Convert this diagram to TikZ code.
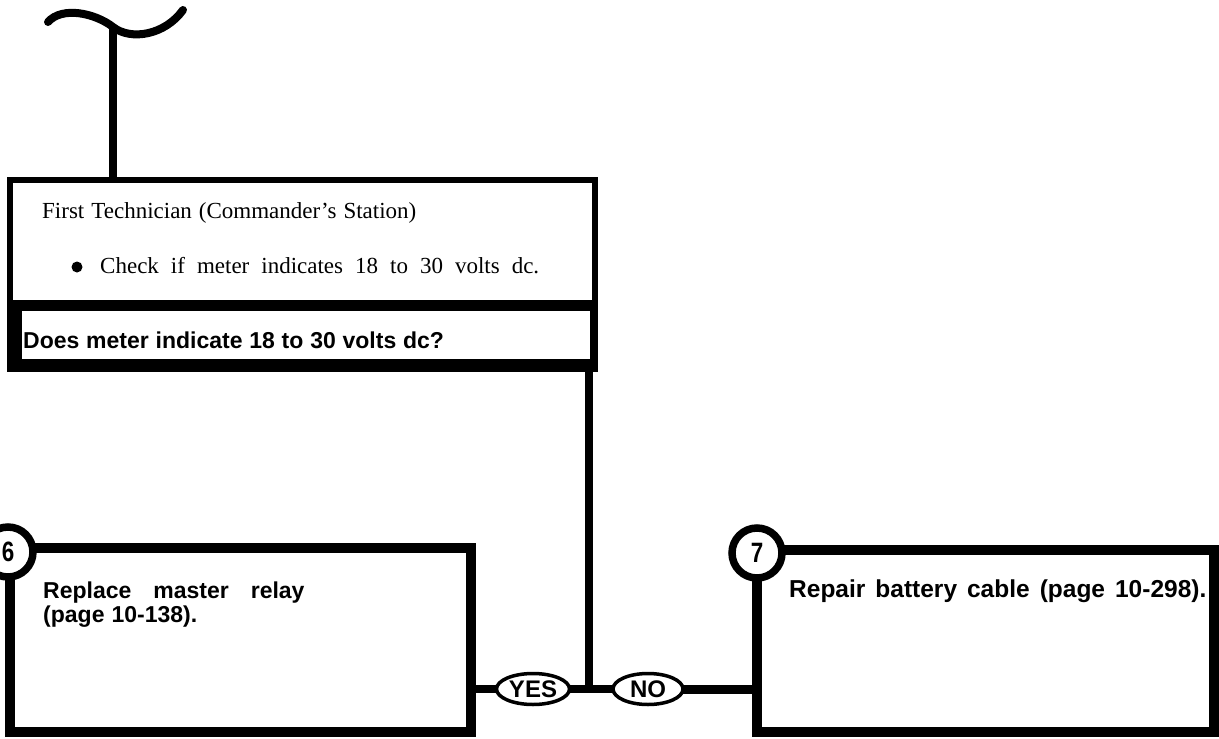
\documentclass[tikz,border=0pt]{standalone}
\usepackage{fontspec}
\setmainfont{Liberation Serif}
\newfontfamily\hsans{Liberation Sans}
\newfontfamily\hsansc{Liberation Sans}[FakeStretch=0.8]
\usetikzlibrary{shapes.geometric}
\begin{document}
\begin{tikzpicture}[x=1pt,y=-1pt,
  blk/.style={fill=black,inner sep=0pt,outer sep=0pt,anchor=north west},
  wht/.style={fill=white,inner sep=0pt,outer sep=0pt,anchor=north west},
  actbox/.style={draw=black,line width=10pt,fill=white,inner sep=0pt,outer sep=0pt},
  numcirc/.style={circle,draw=black,line width=7.5pt,fill=white,minimum size=50pt,inner sep=0pt,outer sep=0pt,font=\hsansc\bfseries\fontsize{28}{29}\selectfont},
  ans/.style={ellipse,draw=black,line width=3.5pt,fill=white,inner sep=0pt,outer sep=0pt,font=\hsans\bfseries\fontsize{24}{25}\selectfont},
  serif/.style={inner sep=0pt,anchor=base west,font=\fontsize{23}{26}\selectfont},
  bold/.style={inner sep=0pt,anchor=base west,font=\hsans\bfseries\fontsize{23}{26}\selectfont},
  wire/.style={line width=7.5pt}]
\fill[white] (0,0) rectangle (1219,739);
\useasboundingbox (0,0) rectangle (1219,739);
% top step box
\node[blk,minimum width=591pt,minimum height=195pt] (frame) at (7,177) {};
\node[wht,minimum width=579pt,minimum height=117pt] (upper) at (13,183) {};
\node[wht,minimum width=568pt,minimum height=48pt] (qbar) at (22,311) {};
\node[serif] (t1) at (42,218) {\spaceskip=7pt First Technician (Commander's Station)};
\node[circle,fill=black,minimum size=11pt,inner sep=0pt] (bul) at (77,267) {};
\node[serif] (t2) at (100,273) {\spaceskip=12pt Check if meter indicates 18 to 30 volts dc.};
\node[bold] (q) at (23,348) {\spaceskip=6.8pt Does meter indicate 18 to 30 volts dc?};
% top curve and connector
\coordinate (tip) at (113,27);
\draw[line width=8pt,line cap=round] (48,22) .. controls (62,6) and (95,13) .. (tip) .. controls (131,41) and (165,35) .. (183,10);
\draw[wire] (tip) -- (tip |- frame.north);
% result boxes
\node[actbox,minimum width=461pt,minimum height=184pt] (b6) at (240.5,640) {};
\node[actbox,minimum width=457pt,minimum height=182pt] (b7) at (985.5,641) {};
\node[numcirc] (c6) at (8,552) {6};
\node[numcirc] (c7) at (757,553) {7};
\node[bold] (r6a) at (43,598) {\spaceskip=22pt Replace master relay};
\node[bold] (r6b) at (43,622) {\spaceskip=7pt (page 10-138).};
\node[bold,font=\hsans\bfseries\fontsize{24.5}{26}\selectfont] (r7) at (789,597) {\spaceskip=10pt Repair battery cable (page 10-298).};
% answers
\coordinate (jn) at (589,689);
\node[ans,minimum width=73pt,minimum height=31pt] (yes) at (533,689) {YES};
\node[ans,minimum width=70pt,minimum height=31pt] (no) at (648,689) {NO};
\draw[line width=8pt] (jn |- frame.south) -- (jn);
\draw[wire] (b6.east |- yes) -- (yes.west);
\draw[wire] (yes.east) -- (jn) -- (no.west);
\draw[line width=9pt] (no.east) -- (no -| b7.west);
\end{tikzpicture}
\end{document}
